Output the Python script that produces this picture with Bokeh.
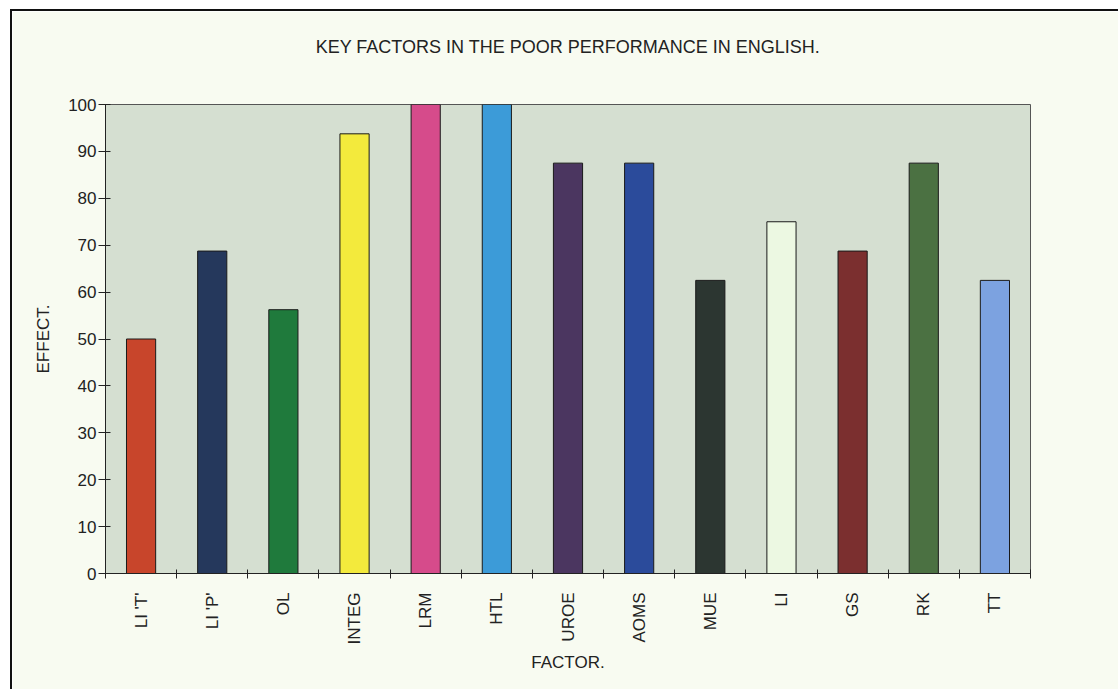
import math
from bokeh.plotting import figure
from bokeh.models import Range1d, FixedTicker, ColumnDataSource, LinearAxis
from bokeh.embed import file_html
from bokeh.resources import INLINE

# ---- data ----
title_text = "KEY FACTORS IN THE POOR PERFORMANCE IN ENGLISH."
factors = ["LI 'T'", "LI 'P'", "OL", "INTEG", "LRM", "HTL", "UROE", "AOMS", "MUE", "LI", "GS", "RK", "TT"]
effect = [50, 68.75, 56.25, 93.75, 100, 100, 87.5, 87.5, 62.5, 75, 68.75, 87.5, 62.5]
bar_colors = ["#c8452b", "#25385c", "#1f7a3c", "#f3ea3c", "#d64b8b", "#3c9bd8", "#4b3660",
              "#2b4b9b", "#2c3631", "#ecf8e2", "#7b2f2f", "#4b7142", "#7ca2e0"]
y_ticks = [0, 10, 20, 30, 40, 50, 60, 70, 80, 90, 100]

positions = list(range(1, len(factors) + 1))
boundaries = [i + 0.5 for i in range(0, len(factors) + 1)]

src = ColumnDataSource(dict(x=positions, top=effect, color=bar_colors, name=factors))

FONT = "Liberation Sans"
TXT = "#222222"

p = figure(width=1108, height=680, output_backend="svg", toolbar_location=None,
           x_range=Range1d(0.5, 13.5), y_range=Range1d(0, 100),
           min_border_left=93, min_border_right=90, min_border_top=93, min_border_bottom=118)

p.styles = {"margin-left": "10px", "margin-top": "9px",
            "border-left": "2px solid #111111", "border-top": "2px solid #111111"}

p.background_fill_color = "#d5dfd1"
p.border_fill_color = "#f8fbf1"
p.outline_line_color = "#555555"
p.outline_line_width = 1
p.grid.visible = False

p.vbar(x="x", top="top", bottom=0, width=0.41, source=src,
       fill_color="color", line_color="#1a1a1a", line_width=1)

xa = p.below[0]
ya = p.left[0]

# title drawn as the label of an empty axis above the frame
top_axis = LinearAxis(ticker=FixedTicker(ticks=[]), axis_line_color=None,
                      major_tick_line_color=None, minor_tick_line_color=None,
                      major_tick_out=0, major_tick_in=0, major_label_standoff=0,
                      axis_label=title_text, axis_label_standoff=48,
                      axis_label_text_font=FONT, axis_label_text_font_size="18px",
                      axis_label_text_font_style="normal", axis_label_text_color=TXT)
p.add_layout(top_axis, "above")

# y axis
ya.ticker = FixedTicker(ticks=y_ticks)
ya.axis_label = "EFFECT."
ya.axis_label_text_font = FONT
ya.axis_label_text_font_size = "17px"
ya.axis_label_text_font_style = "normal"
ya.axis_label_text_color = TXT
ya.axis_label_standoff = 12
ya.major_label_text_font = FONT
ya.major_label_text_font_size = "17px"
ya.major_label_text_color = TXT
ya.major_label_standoff = 2
ya.major_tick_in = 5
ya.major_tick_out = 7
ya.minor_tick_line_color = None
ya.axis_line_color = "#222222"
ya.major_tick_line_color = "#222222"

# x axis: labels at centers, ticks at boundaries (minor ticks)
xa.ticker = FixedTicker(ticks=positions, minor_ticks=boundaries)
xa.major_label_overrides = {i: f for i, f in zip(positions, factors)}
xa.major_label_orientation = math.pi / 2
xa.major_label_text_font = FONT
xa.major_label_text_font_size = "17px"
xa.major_label_text_color = TXT
xa.major_tick_line_color = None
xa.major_tick_in = 0
xa.major_tick_out = 5
xa.major_label_standoff = 14
xa.minor_tick_line_color = "#222222"
xa.minor_tick_in = 4
xa.minor_tick_out = 5
xa.axis_line_color = "#222222"
xa.axis_label = "FACTOR."
xa.axis_label_text_font = FONT
xa.axis_label_text_font_size = "17px"
xa.axis_label_text_font_style = "normal"
xa.axis_label_text_color = TXT
xa.axis_label_standoff = 6

open("out.html", "w").write(file_html(p, INLINE))
